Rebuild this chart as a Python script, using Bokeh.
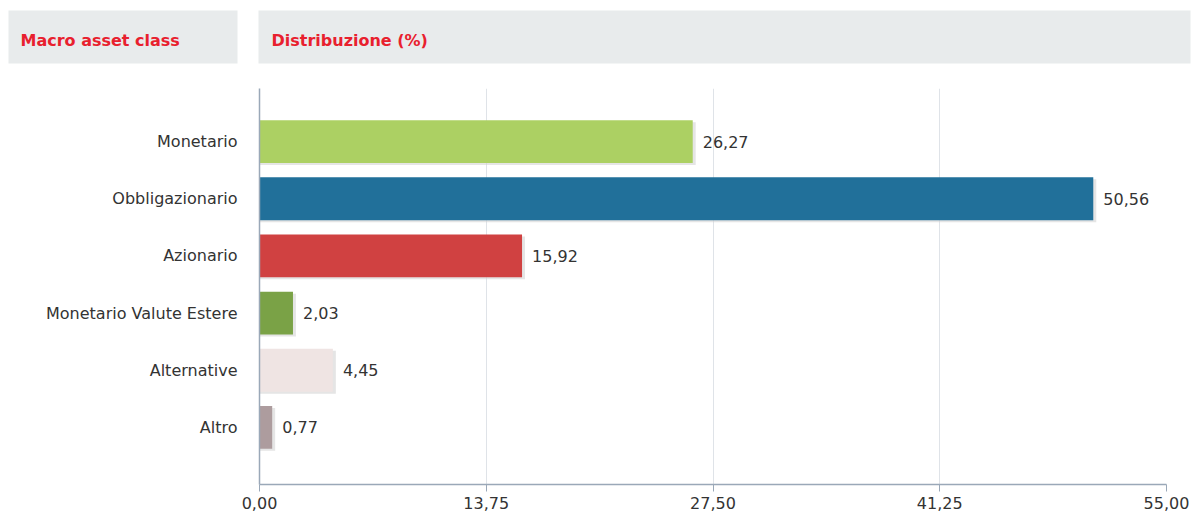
from bokeh.plotting import figure
from bokeh.models import Range1d, FixedTicker, ColumnDataSource
from bokeh.layouts import column
from bokeh.transform import dodge
from bokeh.core.properties import value
from bokeh.embed import file_html
from bokeh.resources import INLINE

categories = ["Monetario", "Obbligazionario", "Azionario",
              "Monetario Valute Estere", "Alternative", "Altro"]
values = [26.27, 50.56, 15.92, 2.03, 4.45, 0.77]
colors = ["#acd063", "#21709a", "#d04141", "#7aa246", "#efe4e3", "#ad9c9e"]
x_ticks = [0, 13.75, 27.5, 41.25, 55]
header_labels = ["Macro asset class", "Distribuzione (%)"]

FONT = "DejaVu Sans"
FS = "16px"
W = 1198

# ---------- header ----------
h = figure(width=W, height=75, x_range=Range1d(0, W), y_range=Range1d(75, 0),
           output_backend="svg", toolbar_location=None,
           min_border=0, outline_line_color=None)
h.axis.visible = False
h.grid.visible = False
h.quad(left=[8, 258], right=[237, 1190], top=[10, 10], bottom=[63, 63],
       fill_color="#e8ebec", line_color=None)
h.text(x=[20, 271], y=[40, 40], text=header_labels,
       text_font=value(FONT), text_font_style="bold", text_font_size=FS,
       text_color="#e8202e", text_baseline="middle", text_align="left")

# ---------- main chart ----------
n = len(categories)
ys = [n - 1 - i for i in range(n)]
labels = [f"{v:.2f}".replace(".", ",") for v in values]
src = ColumnDataSource(dict(y=ys, v=values, c=colors, lab=labels, cat=categories))

p = figure(width=W, height=438, x_range=Range1d(0, 55),
           y_range=Range1d(-1.0, n - 1 + 0.93),
           output_backend="svg", toolbar_location=None,
           min_border_left=259, min_border_right=32,
           min_border_top=13, min_border_bottom=29,
           outline_line_color=None)

# shadows
p.hbar(y=dodge("y", -0.035, range=p.y_range), left=0,
       right=dodge("v", 0.18, range=p.x_range), height=0.75,
       source=src, fill_color="#cfcfcf", fill_alpha=0.55, line_color=None)
p.hbar(y="y", left=0, right="v", height=0.75, source=src,
       fill_color="c", line_color=None)
p.text(x="v", y="y", text="lab", source=src, x_offset=10,
       text_font=value(FONT), text_font_size=FS, text_color="#333333",
       text_baseline="middle", text_align="left")

p.xaxis.ticker = FixedTicker(ticks=x_ticks)
p.xaxis.major_label_overrides = {t: f"{t:.2f}".replace(".", ",") for t in x_ticks}
p.yaxis.ticker = FixedTicker(ticks=ys)
p.yaxis.major_label_overrides = {y: c for y, c in zip(ys, categories)}

for ax in (p.xaxis, p.yaxis):
    ax.axis_line_color = "#9aa8b8"
    ax.axis_line_width = 1.5
    ax.major_label_text_font = FONT
    ax.major_label_text_font_size = FS
    ax.major_label_text_color = "#333333"
    ax.minor_tick_line_color = None
    ax.major_tick_in = 0

p.xaxis.major_tick_out = 7
p.xaxis.major_tick_line_color = "#9aa8b8"
p.xaxis.major_label_standoff = 5
p.yaxis.major_tick_out = 0
p.yaxis.major_tick_line_color = None
p.yaxis.major_label_standoff = 22

p.xgrid.grid_line_color = "#dfe3e8"
p.xgrid.ticker = FixedTicker(ticks=x_ticks)
p.ygrid.grid_line_color = None

layout = column(column(h), column(p), spacing=0)
open("out.html", "w").write(file_html(layout, INLINE))
